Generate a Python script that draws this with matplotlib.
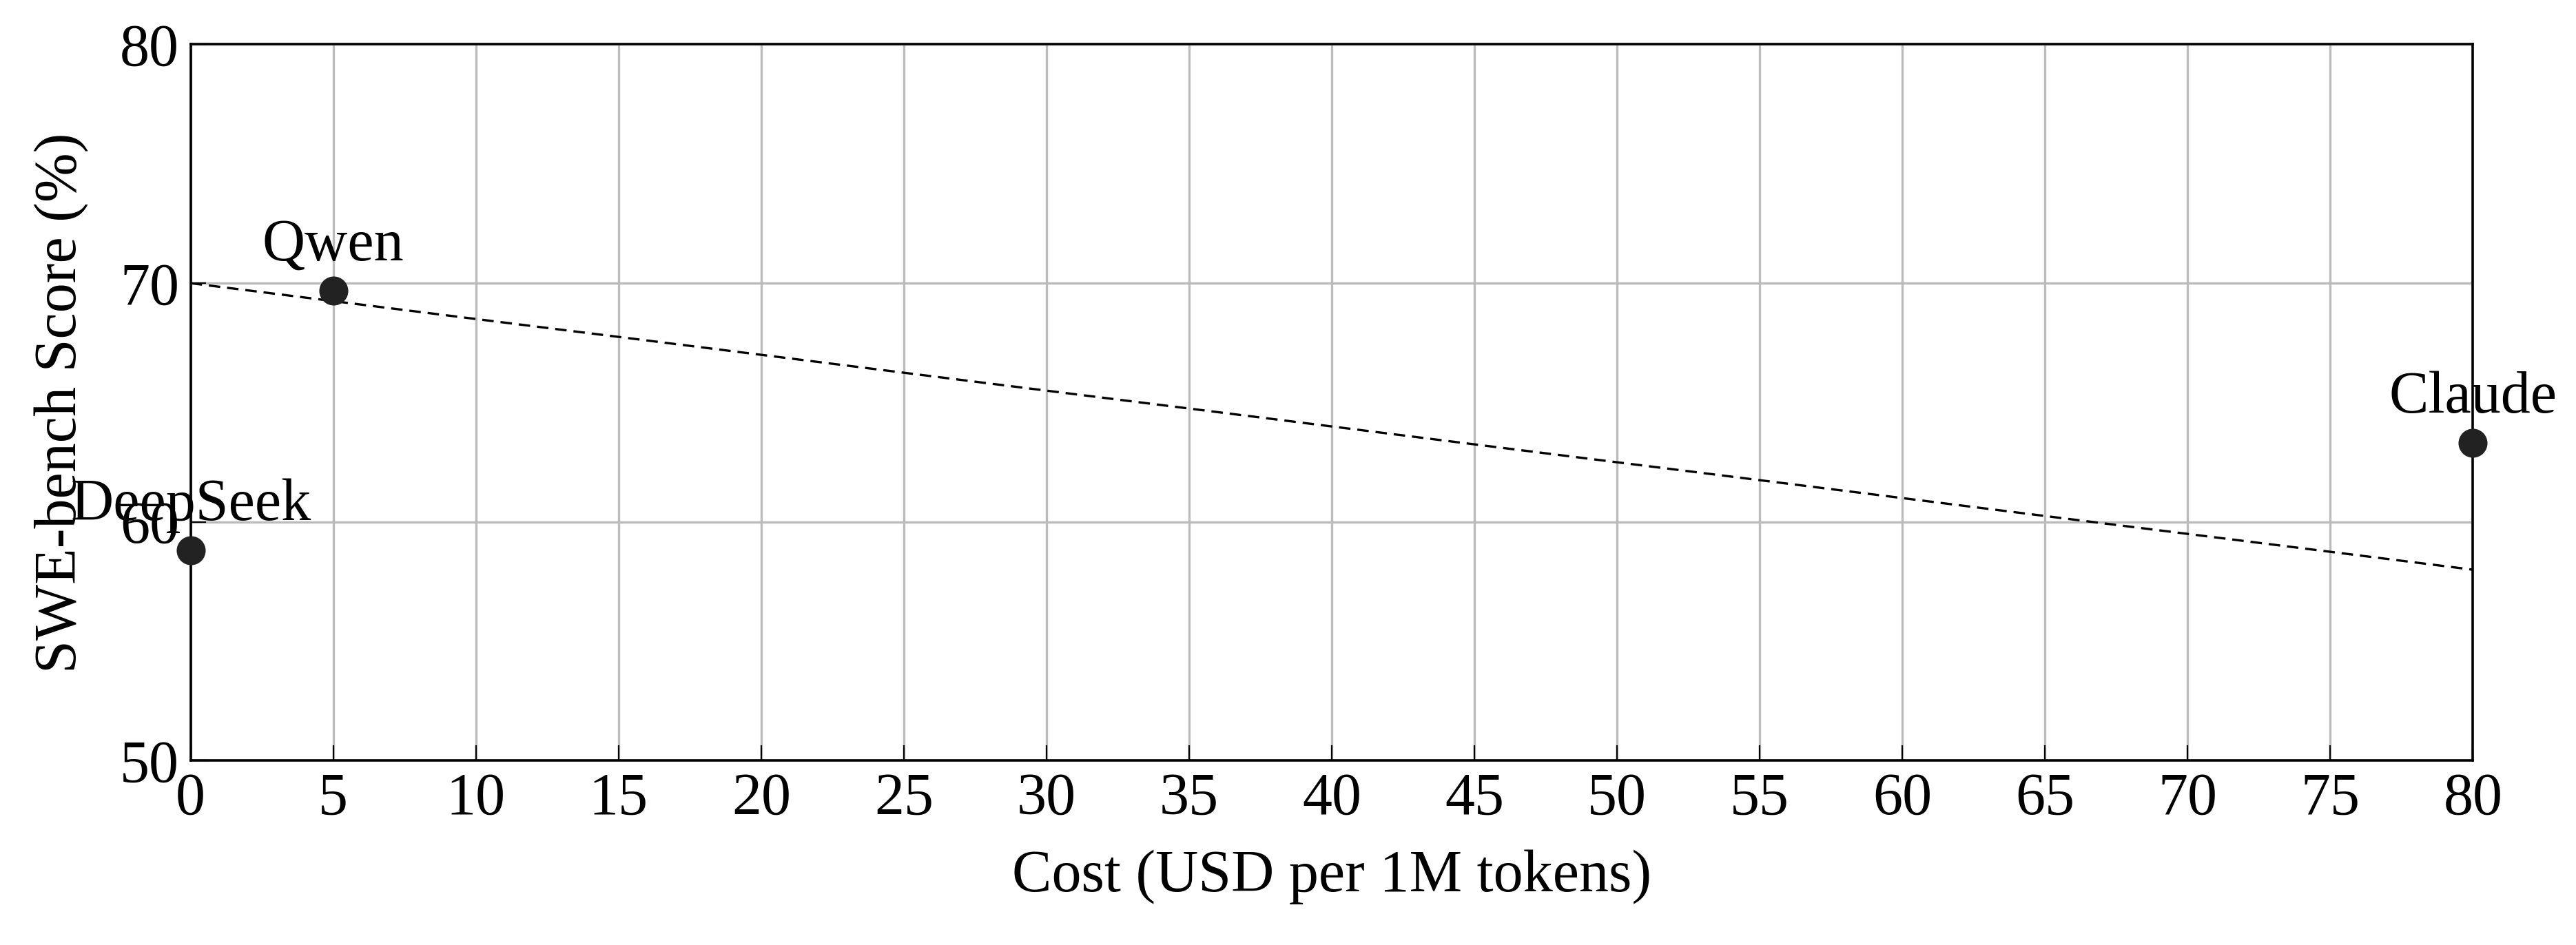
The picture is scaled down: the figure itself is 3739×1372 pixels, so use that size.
import numpy as np
import matplotlib.pyplot as plt

# model cost vs score
models = ['DeepSeek', 'Qwen', 'Claude']
cost = [0, 5, 80]
score = [58.8, 69.7, 63.3]
trend_x = [0, 80]
trend_y = [70, 58]

plt.rcParams['font.family'] = ['Liberation Serif', 'DejaVu Serif']
plt.rcParams['font.size'] = 31

fig = plt.figure(figsize=(18.695, 6.86), dpi=200)
ax = fig.add_axes([0.074, 0.195, 0.886, 0.758])

ax.plot(trend_x, trend_y, 'k--', linewidth=1.2, dashes=(5, 3))
ax.scatter(cost, score, s=200, color='#222222', zorder=5, clip_on=False)
for name, x, y in zip(models, cost, score):
    ax.annotate(name, (x, y), xytext=(0, 9), textcoords='offset points',
                ha='center', va='bottom', fontsize=31)

ax.set_xlim(0, 80)
ax.set_ylim(50, 80)
ax.set_xticks(np.arange(0, 81, 5))
ax.set_yticks([50, 60, 70, 80])
ax.grid(True, color='#bbbbbb', linewidth=1.2)
ax.set_axisbelow(True)
ax.tick_params(direction='in', length=8, pad=6)
for s in ax.spines.values():
    s.set_linewidth(1.3)
ax.set_xlabel('Cost (USD per 1M tokens)', labelpad=12)
ax.set_ylabel('SWE-bench Score (%)', labelpad=16)

fig.savefig('out.png')
